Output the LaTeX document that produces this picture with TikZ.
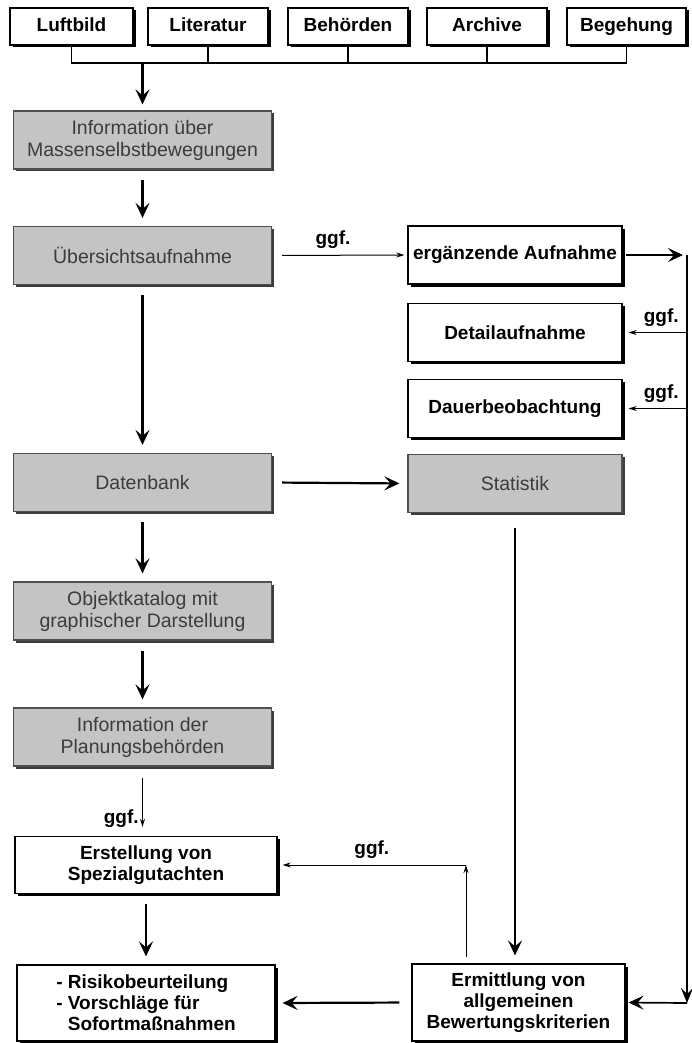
\documentclass[tikz,border=0pt]{standalone}
\usepackage{fontspec}
\setmainfont{Liberation Sans}
\usetikzlibrary{arrows.meta,shadows}
\definecolor{boxfill}{HTML}{C4C4C4}
\definecolor{boxline}{HTML}{505050}
\definecolor{boxtext}{HTML}{3C3C3C}
\definecolor{boxshade}{HTML}{3C3C3C}

\begin{document}
\begin{tikzpicture}[
      x=1pt, y=-1pt,
      whitebox/.style={draw, line width=1.2pt, fill=white, inner sep=2pt,
        font=\bfseries\fontsize{19}{21}\selectfont, align=center,
        drop shadow={shadow xshift=2.5pt, shadow yshift=-2.5pt, fill=black, opacity=1}},
      srcbox/.style={whitebox, minimum width=120pt, minimum height=37pt,
        text height=13.5pt, text depth=3.5pt},
      rightbox/.style={whitebox, minimum width=214pt, minimum height=58pt},
      greybox/.style={draw=boxline, line width=1.2pt, fill=boxfill, text=boxtext, inner sep=2pt,
        font=\fontsize{19.5}{22}\selectfont, align=center,
        minimum width=258pt, minimum height=58pt,
        drop shadow={shadow xshift=2.5pt, shadow yshift=-2.5pt, fill=boxshade, opacity=1}},
      flow/.style={line width=2.2pt, -{Stealth[length=15pt,width=14pt,inset=6pt]},
        shorten <=10pt, shorten >=8pt},
      maybe/.style={line width=1pt, -{Stealth[length=8pt,width=5pt]}},
      ggf/.style={font=\bfseries\fontsize{19}{21}\selectfont}
    ]
    \useasboundingbox (0,0) rectangle (692,1043);

    \node[srcbox, minimum width=123pt] (luftbild) at (71.5,26.5) {Luftbild};
    \node[srcbox] (literatur) at (208,26.5) {Literatur};
    \node[srcbox] (behoerden) at (348,26.5) {Behörden};
    \node[srcbox] (archive) at (487,26.5) {Archive};
    \node[srcbox, minimum width=119pt] (begehung) at (626.5,26.5) {Begehung};

    \node[greybox] (info) at (142.5,140) {Information über\\Massenselbstbewegungen};
    \node[greybox] (uebersicht) at (142.5,255.5) {Übersichtsaufnahme};
    \node[greybox] (datenbank) at (142.5,482.5) {Datenbank};
    \node[greybox] (katalog) at (142.5,611) {Objektkatalog mit\\graphischer Darstellung};
    \node[greybox] (planung) at (142.5,737) {Information der\\Planungsbehörden};
    \node[whitebox, minimum width=262pt, minimum height=57pt] (erstellung) at (146,865) {Erstellung von\\Spezialgutachten};
    \node[whitebox, minimum width=258pt, minimum height=76pt, align=left] (risiko) at (146,1003)
      {- Risikobeurteilung\\- Vorschläge für\\\phantom{- }Sofortmaßnahmen};

    \node[rightbox] (ergaenzung) at (515,255) {ergänzende Aufnahme};
    \node[rightbox] (detail) at (515,332.5) {Detailaufnahme};
    \node[rightbox] (dauer) at (515,408.5) {Dauerbeobachtung};
    \node[greybox, minimum width=214pt] (statistik) at (515,483.5) {Statistik};
    \node[whitebox, minimum width=213pt, minimum height=77pt] (ermittlung) at (518.5,1002.5)
      {Ermittlung von\\allgemeinen\\Bewertungskriterien};

    \coordinate (bus) at (0,63);
    \coordinate (rtop) at (687,255);
    \coordinate (rbot) at (687,1003);
    \coordinate (back) at (466,865);

    \draw[line width=1.4pt] (luftbild.south) |- (begehung.south |- bus) -- (begehung.south);
    \foreach \src in {literatur,behoerden,archive}
      \draw[line width=1.4pt] (\src.south) -- (\src.south |- bus);
    \draw[flow, shorten <=0pt, shorten >=6pt] (info.north |- bus) -- (info.north);

    \foreach \a/\b in {info/uebersicht,uebersicht/datenbank,datenbank/katalog,katalog/planung,erstellung/risiko}
      \draw[flow] (\a.south) -- (\b.north);

    \draw[maybe, shorten <=10pt, shorten >=3pt] (uebersicht.east) -- node[ggf, above=3pt, pos=0.45] {ggf.} (ergaenzung.west);
    \draw[flow, line width=1.7pt, shorten <=3pt, shorten >=4pt] (ergaenzung.east) -- (rtop);
    \draw[line width=1.5pt, -{Stealth[length=15pt,width=12pt,inset=6pt]}] (rtop) -- (rbot);
    \draw[flow, line width=1.7pt, shorten <=0pt, shorten >=3pt] (rbot) -- (ermittlung.east);
    \draw[maybe, shorten >=6pt] (rtop |- detail) -- node[ggf, above=2pt, pos=0.4] {ggf.} (detail.east);
    \draw[maybe, shorten >=6pt] (rtop |- dauer) -- node[ggf, above=2pt, pos=0.4] {ggf.} (dauer.east);

    \draw[flow] (datenbank.east) -- (statistik.west);
    \draw[flow, shorten <=15pt] (statistik.south) -- (statistik.south |- ermittlung.north);
    \draw[flow, shorten <=12pt, shorten >=7pt] (ermittlung.west) -- (risiko.east);

    \draw[maybe, shorten <=11pt, shorten >=9pt] (planung.south) -- node[ggf, left, pos=0.75] {ggf.} (planung.south |- erstellung.north);
    \draw[maybe, shorten <=6pt] (ermittlung.north -| back) -- (back);
    \draw[maybe, shorten >=5pt] (back) -- node[ggf, above=3pt] {ggf.} (erstellung.east);
  \end{tikzpicture}
\end{document}
